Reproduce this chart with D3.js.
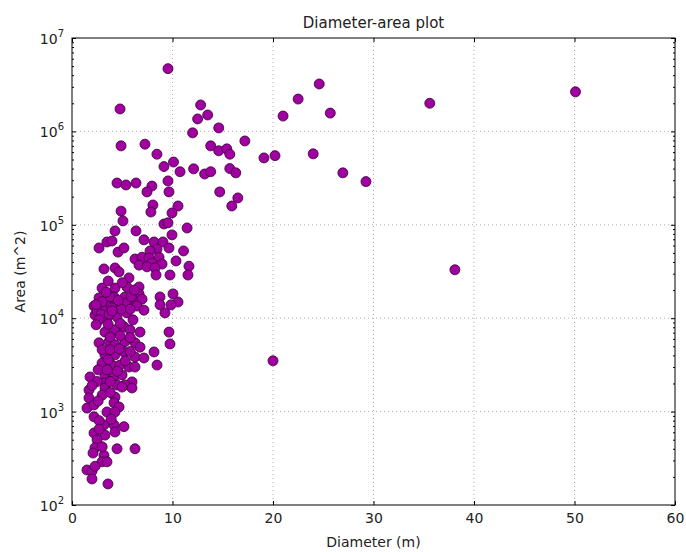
<!DOCTYPE html>
<html>
<head>
<meta charset="utf-8">
<script src="https://cdn.jsdelivr.net/npm/d3@7"></script>
<style>
body { margin: 0; background: #fff; }
text { font-family: "DejaVu Sans", sans-serif; fill: #222; }
</style>
</head>
<body>
<script>
// [diameter (m), area (m^2)] grouped by decade of area
var band6 = [[9.55,4.7e6],[4.78,1.74e6],[12.8,1.92e6],[13.5,1.5e6],[12.5,1.36e6],[22.5,2.22e6],[21.0,1.46e6],
  [24.6,3.22e6],[25.7,1.57e6],[35.6,2.0e6],[50.1,2.65e6],[14.6,1.09e6]];
var band5 = [[12.0,9.65e5],[17.2,7.9e5],[13.8,7.0e5],[14.6,6.2e5],[15.4,6.5e5],[15.7,5.7e5],[19.1,5.2e5],[20.2,5.5e5],
  [8.45,5.7e5],[9.15,4.2e5],[10.1,4.7e5],[10.75,3.7e5],[12.1,3.97e5],[13.2,3.5e5],[13.8,3.7e5],[15.7,4.0e5],
  [16.3,3.6e5],[9.55,2.95e5],[9.65,2.25e5],[7.95,2.6e5],[14.7,2.25e5],[16.5,1.94e5],[15.9,1.59e5],[10.55,1.59e5],
  [8.05,1.63e5],[7.85,1.37e5],[9.95,1.34e5],[9.15,1.02e5],[9.55,1.05e5],[24.0,5.75e5],[26.95,3.6e5],[29.25,2.9e5],
  [4.88,7.0e5],[7.26,7.3e5],[4.48,2.8e5],[5.37,2.67e5],[6.37,2.8e5],[7.46,2.25e5],[4.88,1.4e5],[5.07,1.1e5]];
var band4 = [[4.28,8.6e4],[6.37,8.6e4],[11.45,9.25e4],[9.95,7.8e4],[7.16,6.9e4],[8.16,6.55e4],[9.05,6.55e4],
  [2.69,5.65e4],[3.48,6.55e4],[3.98,6.7e4],[4.58,5.1e4],[5.17,5.65e4],[8.46,5.5e4],[9.65,5.65e4],[11.1,5.25e4],
  [7.76,5.25e4],[6.27,4.3e4],[6.97,4.5e4],[7.66,4.4e4],[8.66,4.5e4],[7.96,3.9e4],[8.96,3.8e4],[6.67,3.7e4],
  [7.46,3.55e4],[8.26,3.45e4],[10.35,4.1e4],[3.18,3.37e4],[4.28,3.45e4],[4.68,3.13e4],[8.36,2.9e4],[9.75,2.9e4],
  [11.64,3.6e4],[11.54,2.9e4],[5.67,2.7e4],[2.99,2.1e4],[4.28,2.1e4],[5.47,2.16e4],[6.67,2.16e4],[2.69,1.65e4],
  [4.18,1.69e4],[5.27,1.69e4],[6.67,1.82e4],[6.07,1.53e4],[6.97,1.6e4],[8.76,1.69e4],[10.05,1.82e4],[10.55,1.49e4],
  [8.76,1.39e4],[9.85,1.39e4],[2.19,1.35e4],[3.58,1.42e4],[4.28,1.39e4],[5.37,1.45e4],[6.47,1.35e4],[7.16,1.22e4],
  [9.25,1.14e4],[2.29,1.08e4],[3.48,1.0e4],[4.48,1.03e4],[5.47,1.14e4],[3.18,1.22e4],[3.98,1.29e4],[38.1,3.3e4],
  [2.5,1.2e4],[3.0,1.5e4],[3.8,1.7e4],[2.9,1.1e4],[3.7,1.1e4],[4.9,1.25e4],[5.8,1.25e4],[3.4,1.9e4],
  [2.4,1.4e4],[4.6,1.55e4],[5.0,2.4e4],[3.6,2.5e4],[5.9,1.7e4],[6.2,2.0e4],[4.0,1.2e4]];
var band3 = [[6.07,9.6e3],[2.69,9.6e3],[3.28,7.1e3],[4.28,7.5e3],[5.17,8.1e3],[5.77,7.5e3],[6.77,7.1e3],[9.65,7.1e3],
  [2.69,5.45e3],[3.68,5.6e3],[4.28,5.2e3],[5.27,5.6e3],[6.27,5.45e3],[6.77,4.9e3],[9.75,5.3e3],[8.16,4.35e3],
  [3.28,4.05e3],[4.28,4.05e3],[5.17,4.35e3],[6.27,3.85e3],[7.16,3.75e3],[8.46,3.15e3],[2.99,3.3e3],[3.98,3.15e3],
  [4.78,3.15e3],[5.67,3.0e3],[6.27,3.0e3],[1.79,2.35e3],[3.28,2.47e3],[4.18,2.35e3],[4.98,2.47e3],[5.97,2.08e3],
  [3.28,2.03e3],[4.48,1.93e3],[5.27,1.93e3],[1.69,1.7e3],[3.28,1.79e3],[4.98,1.83e3],[5.97,1.79e3],[1.69,1.4e3],
  [4.28,1.43e3],[4.18,1.24e3],[4.68,1.12e3],[1.49,1.09e3],[2.19,1.18e3],[20.0,3.5e3],
  [2.4,8.5e3],[3.6,8.6e3],[4.8,8.8e3],[3.8,6.3e3],[4.8,6.5e3],[5.8,6.2e3],[3.0,4.6e3],[3.8,4.6e3],
  [4.7,4.7e3],[5.8,4.4e3],[3.6,3.6e3],[5.3,3.5e3],[2.6,2.8e3],[3.5,2.8e3],[4.5,2.7e3],[2.5,2.1e3],
  [3.8,2.1e3],[2.0,1.9e3],[3.0,1.5e3],[3.8,1.6e3],[2.6,1.3e3]];
var band2 = [[3.48,990],[4.28,990],[2.19,880],[3.18,720],[4.18,720],[5.17,690],[2.19,590],[3.28,560],[4.28,605],
  [2.49,500],[2.29,410],[4.48,400],[6.27,400],[2.09,360],[3.18,340],[2.99,290],[3.48,290],[1.49,237],[1.99,230],
  [1.99,190],[3.58,168],[2.7,800],[3.9,830],[2.7,650],[3.0,420],[2.3,260]];

var xTicks = [0, 10, 20, 30, 40, 50, 60];
var yDecades = [2, 3, 4, 5, 6, 7];

var margin = {top: 38, right: 11, bottom: 47, left: 72},
    width = 686 - margin.left - margin.right,
    height = 552 - margin.top - margin.bottom;

var svg = d3.select("body").append("svg")
    .attr("width", 686)
    .attr("height", 552);

var g = svg.append("g")
    .attr("transform", "translate(" + margin.left + "," + margin.top + ")");

var x = d3.scaleLinear().domain([0, 60]).range([0, width]);
var y = d3.scaleLog().domain([1e2, 1e7]).range([height, 0]);

var majorY = yDecades.map(function(e) { return Math.pow(10, e); });
var minorY = [];
yDecades.slice(0, -1).forEach(function(e) {
  for (var k = 2; k < 10; k++) minorY.push(k * Math.pow(10, e));
});

// grid
g.selectAll("line.gx").data(xTicks.slice(1, -1)).enter().append("line")
    .attr("x1", x).attr("x2", x).attr("y1", 0).attr("y2", height)
    .attr("stroke", "#777").attr("stroke-width", 0.6).attr("stroke-dasharray", "1,3");
g.selectAll("line.gy").data(majorY.slice(1, -1)).enter().append("line")
    .attr("y1", y).attr("y2", y).attr("x1", 0).attr("x2", width)
    .attr("stroke", "#777").attr("stroke-width", 0.6).attr("stroke-dasharray", "1,3");

// points
var all = band6.concat(band5, band4, band3, band2);
g.selectAll("circle").data(all).enter().append("circle")
    .attr("cx", function(d) { return x(d[0]); })
    .attr("cy", function(d) { return y(d[1]); })
    .attr("r", 5)
    .attr("fill", "#a000a0")
    .attr("stroke", "#3a003a")
    .attr("stroke-width", 0.8);

// axes with inward ticks on all sides
var xAxisB = d3.axisBottom(x).tickValues(xTicks).tickSize(-4).tickPadding(8);
var xAxisT = d3.axisTop(x).tickValues(xTicks).tickSize(-4).tickFormat("");
var yAxisL = d3.axisLeft(y).tickValues(majorY).tickSize(-4).tickFormat("");
var yAxisR = d3.axisRight(y).tickValues(majorY).tickSize(-4).tickFormat("");
var yMinL = d3.axisLeft(y).tickValues(minorY).tickSize(-2).tickFormat("");
var yMinR = d3.axisRight(y).tickValues(minorY).tickSize(-2).tickFormat("");

function styleAxis(sel) {
  sel.select(".domain").remove();
  sel.selectAll("line").attr("stroke", "#000");
  sel.selectAll("text").style("font-size", "14px").style("font-family", "DejaVu Sans").attr("fill", "#222");
}

g.append("g").attr("transform", "translate(0," + height + ")").call(xAxisB).call(styleAxis);
g.append("g").call(xAxisT).call(styleAxis);
g.append("g").call(yAxisL).call(styleAxis);
g.append("g").call(yMinL).call(styleAxis);
g.append("g").attr("transform", "translate(" + width + ",0)").call(yAxisR).call(styleAxis);
g.append("g").attr("transform", "translate(" + width + ",0)").call(yMinR).call(styleAxis);

// frame
g.append("rect").attr("width", width).attr("height", height)
    .attr("fill", "none").attr("stroke", "#000").attr("stroke-width", 1);

// y tick labels as 10^n
var yl = g.selectAll("text.yl").data(yDecades).enter().append("text")
    .attr("class", "yl")
    .attr("x", -8)
    .attr("y", function(e) { return y(Math.pow(10, e)) + 6; })
    .attr("text-anchor", "end")
    .style("font-size", "14px");
yl.append("tspan").text("10");
yl.append("tspan").attr("dy", -7).style("font-size", "10px").text(function(e) { return e; });

// title and labels
svg.append("text").attr("x", margin.left + width / 2).attr("y", 28)
    .attr("text-anchor", "middle").style("font-size", "15px").text("Diameter-area plot");
svg.append("text").attr("x", margin.left + width / 2).attr("y", 547)
    .attr("text-anchor", "middle").style("font-size", "14px").text("Diameter (m)");
svg.append("text").attr("transform", "translate(25," + (margin.top + height / 2) + ") rotate(-90)")
    .attr("text-anchor", "middle").style("font-size", "14px").text("Area (m^2)");
</script>
</body>
</html>
